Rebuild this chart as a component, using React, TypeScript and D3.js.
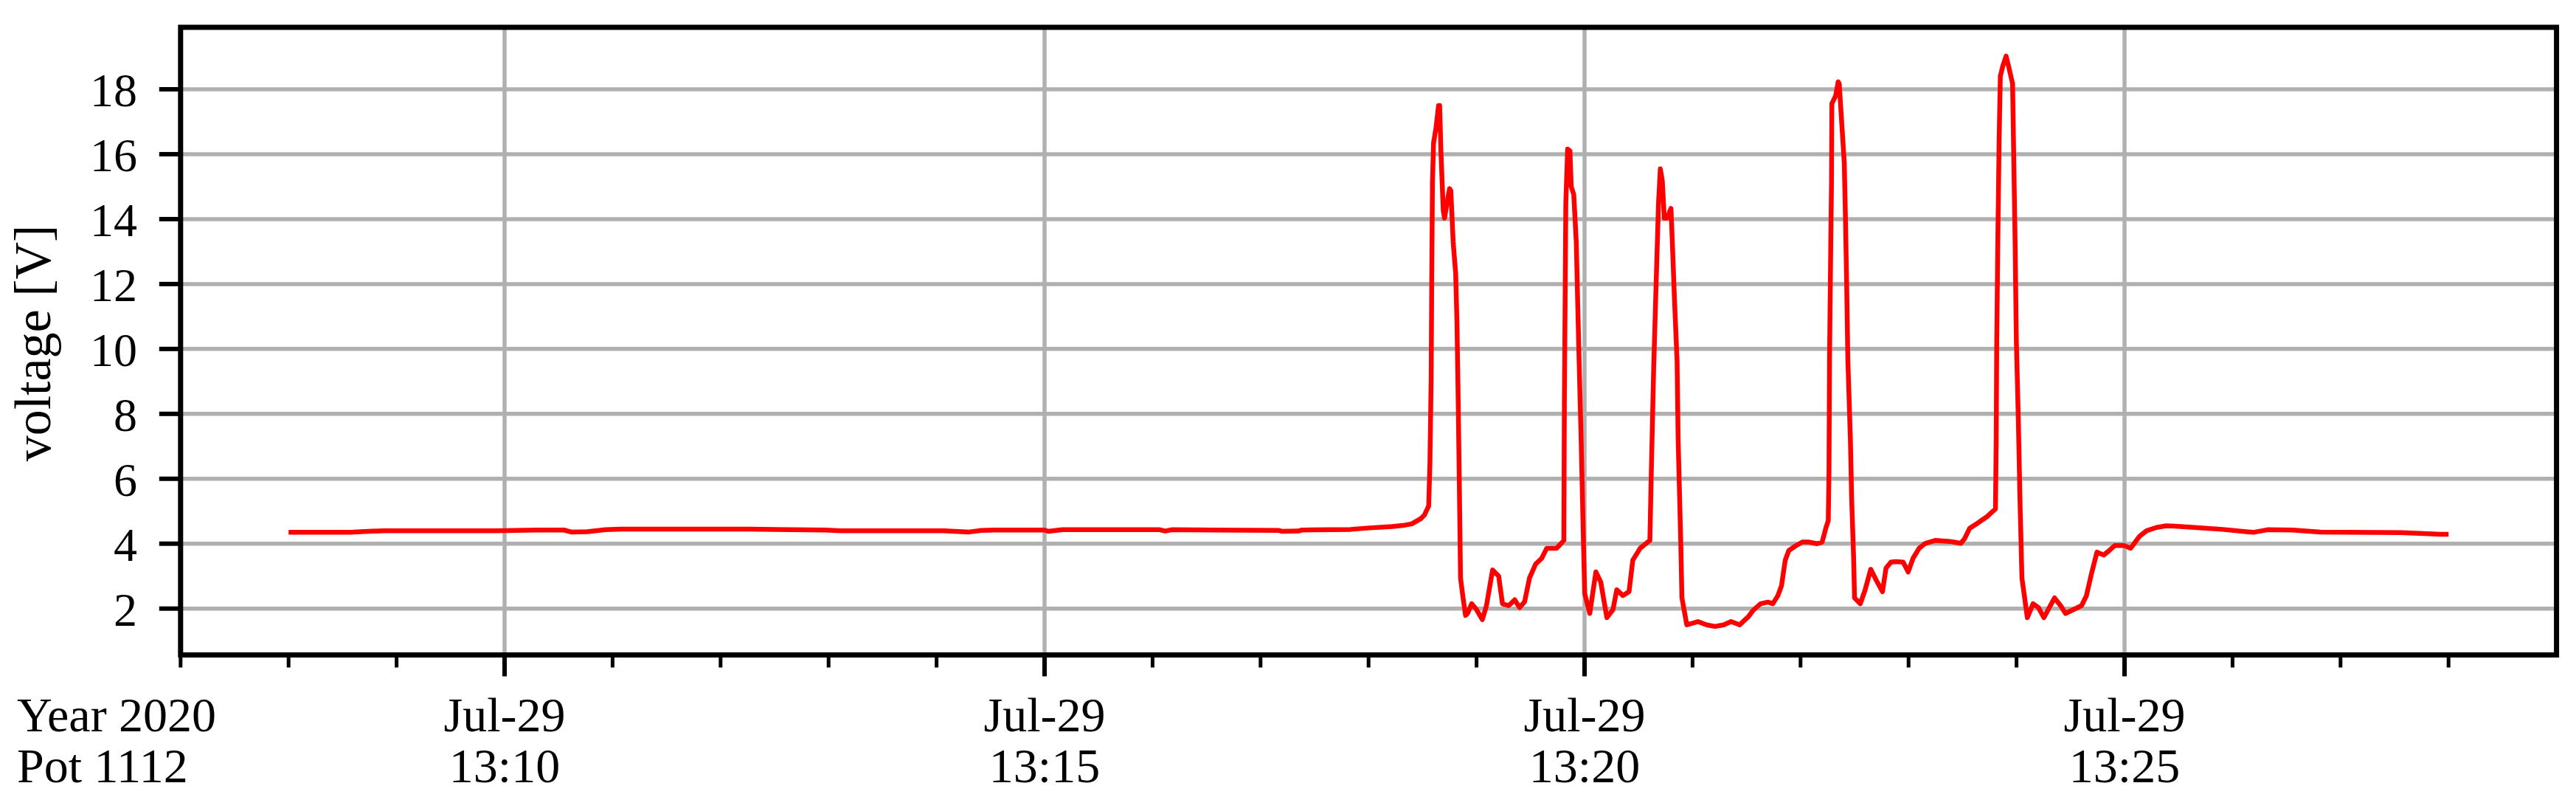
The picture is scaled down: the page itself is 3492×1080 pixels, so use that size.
import React from "react";
import * as d3 from "d3";

// seconds after 13:00:00 on 2020-07-29
const timeSec: number[] = [
  480, 515, 516, 533, 595, 618, 633, 637, 646, 656, 665, 731, 750, 778, 787, 844, 858, 865, 872, 900,
  902, 910, 964, 967, 971, 994, 1030, 1032, 1041, 1043, 1070, 1079, 1093, 1100, 1104, 1109, 1111, 1113.4,
  1114.1, 1114.8, 1115.1, 1115.5, 1116.1, 1117.5, 1118.9, 1119.5, 1120.2, 1121.5, 1122.2, 1123.6, 1125.0,
  1125.7, 1127.0, 1128.4, 1129.1, 1129.8, 1130.4, 1131.1, 1132.5, 1133.9, 1135.0, 1137.3, 1140.0, 1143.2,
  1145.5, 1148.9, 1152.3, 1154.4, 1157.8, 1161.2, 1163.9, 1166.7, 1169.4, 1172.8, 1176.2, 1179.0, 1184.4,
  1186.5, 1188.5,
  1188.8, 1189.6, 1190.6, 1191.9, 1192.6, 1194.0, 1195.4, 1196.7, 1198.1, 1199.5, 1200.1, 1202.9, 1206.3,
  1209.0, 1212.4, 1215.8, 1217.9, 1221.3, 1224.7, 1226.8, 1230.9, 1236.3,
  1237.0, 1238.4, 1239.8, 1241.1, 1242.1, 1243.2, 1244.3, 1245.9, 1248.0, 1248.6, 1250.0, 1251.4, 1252.0,
  1253.4, 1254.1, 1256.8, 1263.0, 1267.8, 1272.5, 1277.3, 1281.4, 1286.2, 1291.0, 1293.7, 1297.8, 1301.9,
  1304.6, 1307.4, 1309.4, 1311.5, 1313.5, 1316.9, 1321.0, 1324.5, 1329.2, 1332.0, 1334.0, 1335.4,
  1335.8, 1336.1, 1336.8, 1337.2, 1337.4, 1339.5, 1340.9, 1341.5, 1342.9, 1344.3, 1345.0, 1345.6, 1346.3,
  1347.7, 1348.4, 1349.5, 1350.0, 1353.2, 1355.9, 1359.0, 1362.0, 1365.5, 1367.5, 1370.2, 1373.0, 1377.0,
  1379.8, 1382.5, 1385.9, 1389.3, 1394.8, 1403.0, 1409.1, 1411.2, 1413.9, 1418.0, 1423.5, 1428.3,
  1428.7, 1429.0, 1429.6, 1430.3, 1431.0, 1432.4, 1434.2, 1435.8, 1437.8, 1438.5, 1439.2, 1439.9, 1441.0,
  1441.9, 1443.0, 1446.0, 1449.2, 1452.2, 1455.2, 1461.1, 1464.5, 1467.2, 1476.1, 1478.8, 1481.6, 1484.7,
  1488.4, 1491.1, 1494.5, 1500.0, 1503.4, 1508.2, 1512.3, 1517.8, 1523.2, 1528, 1539, 1554.6, 1571.6,
  1579.4, 1593.3, 1608.8, 1624.3, 1653.7, 1675.3, 1680,
];

const voltage: number[] = [
  4.35, 4.35, 4.36, 4.4, 4.4, 4.42, 4.42, 4.36, 4.37, 4.43, 4.45, 4.45, 4.44, 4.42, 4.4, 4.4, 4.36, 4.41, 4.42, 4.42,
  4.38, 4.43, 4.43, 4.39, 4.43, 4.42, 4.41, 4.38, 4.39, 4.42, 4.44, 4.48, 4.53, 4.57, 4.61, 4.77, 4.88, 5.16,
  6.48, 9.16, 12.08, 15.12, 16.34, 16.83, 17.5, 17.5, 16.1, 14.27, 14.03, 14.5, 14.94,
  14.88, 13.3, 12.32, 10.86, 8.42, 5.99, 2.94, 2.33, 1.79, 1.85, 2.15, 1.97, 1.66,
  2.09, 3.19, 3.0, 2.15, 2.09, 2.27, 2.03, 2.21, 2.94, 3.37, 3.55, 3.86, 3.86,
  3.98, 4.1,
  8.42, 14.5, 16.16, 16.1, 15.0, 14.76, 13.3, 10.25, 7.2, 3.8, 2.46, 1.85, 3.13,
  2.82, 1.72, 1.97, 2.58, 2.4, 2.52, 3.49, 3.86, 4.1,
  5.99, 9.4, 12.08, 14.5, 15.55, 15.18, 14.03, 14.03, 14.33, 13.54, 11.47, 9.64, 7.2,
  4.16, 2.33, 1.5, 1.6, 1.5, 1.45, 1.5, 1.6, 1.5, 1.75, 1.95, 2.15, 2.2,
  2.15, 2.4, 2.7, 3.49, 3.79, 3.92, 4.05, 4.05, 4.0, 4.05, 4.47, 4.71,
  6.23, 9.64, 13.3, 15.12, 17.56, 17.8, 18.23, 18.17, 16.95, 15.73, 13.9, 12.08, 9.64,
  7.2, 5.38, 3.55, 2.33, 2.15, 2.58, 3.21, 2.88, 2.52, 3.25, 3.43, 3.45, 3.43,
  3.13, 3.55, 3.86, 4.01, 4.1, 4.07, 4.01, 4.16, 4.47, 4.62, 4.83, 5.07,
  7.2, 10.25, 13.3, 16.34, 18.41, 18.72, 19.02, 18.66, 18.17, 15.73, 13.3, 10.25, 7.82,
  5.38, 2.94, 1.72, 2.15, 2.03, 1.72, 2.33, 2.09, 1.85, 2.09, 2.39, 3.07, 3.74,
  3.65, 3.77, 3.94, 3.94, 3.86, 4.22, 4.4, 4.5, 4.55, 4.54, 4.5, 4.44, 4.35,
  4.43, 4.42, 4.36, 4.35, 4.34, 4.29, 4.29,
];

const yTicks: number[] = [2, 4, 6, 8, 10, 12, 14, 16, 18];
const cornerLabel: string[] = ["Year 2020", "Pot 1112"];
const yLabel = "voltage [V]";

const base = new Date(2020, 6, 29, 13, 0, 0).getTime();
const toDate = (s: number) => new Date(base + s * 1000);

export default function App() {
  const W = 3492;
  const H = 1080;
  const left = 244.8;
  const right = 3465.6;
  const top = 37;
  const bottom = 887.5;

  const x = d3
    .scaleTime()
    .domain([new Date(2020, 6, 29, 13, 7, 0), new Date(2020, 6, 29, 13, 29, 0)])
    .range([left, right]);
  const y = d3.scaleLinear().domain([0.572, 19.91]).range([bottom, top]);

  const pts = timeSec.map((t, i) => ({ t: toDate(t), v: voltage[i] }));
  const line = d3
    .line<{ t: Date; v: number }>()
    .x((d) => x(d.t))
    .y((d) => y(d.v));

  const minorTicks = x
    .ticks(d3.timeMinute.every(1) as any)
    .filter((d) => d.getTime() < x.domain()[1].getTime());
  const majorTicks = x.ticks(d3.timeMinute.every(5) as any);
  const fmtDate = d3.timeFormat("%b-%d");
  const fmtTime = d3.timeFormat("%H:%M");
  const font = "'Liberation Serif', 'Times New Roman', serif";

  return (
    <svg
      width={W}
      height={H}
      style={{ position: "absolute", left: 0, top: 0, background: "#fff" }}
      fontFamily={font}
    >
      <rect x={0} y={0} width={W} height={H} fill="#fff" />
      {/* grid */}
      {yTicks.map((t) => (
        <line key={"gy" + t} x1={left} x2={right} y1={y(t)} y2={y(t)} stroke="#b0b0b0" strokeWidth={5.5} />
      ))}
      {majorTicks.map((d) => (
        <line
          key={"gx" + d.getTime()}
          x1={x(d)}
          x2={x(d)}
          y1={top}
          y2={bottom}
          stroke="#b0b0b0"
          strokeWidth={5.5}
        />
      ))}
      {/* data */}
      <path d={line(pts) || ""} fill="none" stroke="#ff0000" strokeWidth={6.5} strokeLinejoin="round" />
      {/* frame */}
      <rect
        x={left}
        y={top}
        width={right - left}
        height={bottom - top}
        fill="none"
        stroke="#000"
        strokeWidth={7}
      />
      {/* y ticks */}
      {yTicks.map((t) => (
        <g key={"yt" + t}>
          <line x1={left - 29} x2={left} y1={y(t)} y2={y(t)} stroke="#000" strokeWidth={6} />
          <text x={186} y={y(t) + 23} textAnchor="end" fontSize={64} fill="#000">
            {t}
          </text>
        </g>
      ))}
      {/* x ticks */}
      {minorTicks.map((d) => (
        <line
          key={"xm" + d.getTime()}
          x1={x(d)}
          x2={x(d)}
          y1={bottom}
          y2={bottom + 17}
          stroke="#000"
          strokeWidth={5}
        />
      ))}
      {majorTicks.map((d) => (
        <g key={"xM" + d.getTime()}>
          <line x1={x(d)} x2={x(d)} y1={bottom} y2={bottom + 29} stroke="#000" strokeWidth={6} />
          <text x={x(d)} y={991} textAnchor="middle" fontSize={66} fill="#000">
            {fmtDate(d)}
          </text>
          <text x={x(d)} y={1060} textAnchor="middle" fontSize={66} fill="#000">
            {fmtTime(d)}
          </text>
        </g>
      ))}
      <text x={23} y={991} fontSize={66} fill="#000">
        {cornerLabel[0]}
      </text>
      <text x={23} y={1060} fontSize={66} fill="#000">
        {cornerLabel[1]}
      </text>
      <text
        transform="translate(68,465) rotate(-90)"
        textAnchor="middle"
        fontSize={70}
        fill="#000"
      >
        {yLabel}
      </text>
    </svg>
  );
}
